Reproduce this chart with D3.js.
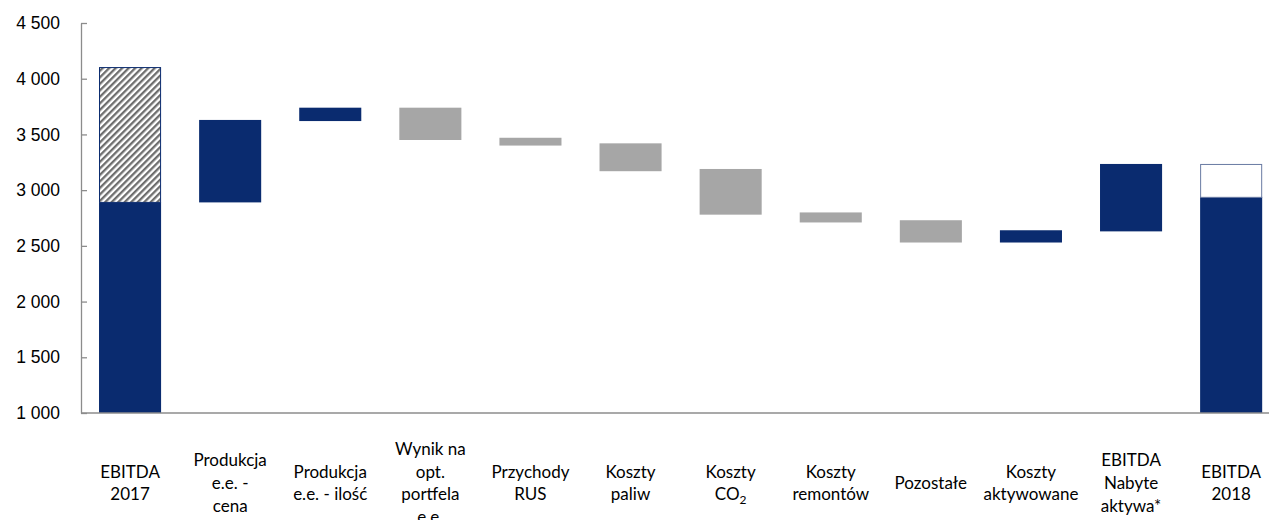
<!DOCTYPE html>
<html>
<head>
<meta charset="utf-8">
<script src="https://cdn.jsdelivr.net/npm/d3@7"></script>
<style>
  body { margin: 0; background: #fff; }
  svg { display: block; font-family: Lato, "Open Sans", sans-serif; }
  .tick text { fill: #000; }
</style>
</head>
<body>
<div id="chart"></div>
<script>
// category labels, one array of lines each ("_2" = subscript 2)
var categories = [
    ["EBITDA", "2017"],
    ["Produkcja", "e.e. -", "cena"],
    ["Produkcja", "e.e. - ilość"],
    ["Wynik na", "opt.", "portfela", "e.e."],
    ["Przychody", "RUS"],
    ["Koszty", "paliw"],
    ["Koszty", "CO_2"],
    ["Koszty", "remontów"],
    ["Pozostałe"],
    ["Koszty", "aktywowane"],
    ["EBITDA", "Nabyte", "aktywa*"],
    ["EBITDA", "2018"]
];

// bottom and top of each floating bar (mln zł)
var lows  = [1000, 2890, 3620, 3450, 3400, 3170, 2780, 2710, 2530, 2530, 2630, 1000];
var highs = [2890, 3630, 3740, 3740, 3470, 3420, 3190, 2800, 2730, 2640, 3235, 2940];
var kinds = ["blue", "blue", "blue", "gray", "gray", "gray", "gray", "gray", "gray", "blue", "blue", "blue"];

// hatched part on top of EBITDA 2017, outlined part on top of EBITDA 2018
var hatchedTop = 4100;
var outlinedTop = 3235;

var yTicks = [1000, 1500, 2000, 2500, 3000, 3500, 4000, 4500];

var width = 1269,
    height = 520;

var colors = {blue: "#0a2b6f", gray: "#a6a6a6"};

var svg = d3.select("#chart")
    .append("svg")
    .attr("width", width)
    .attr("height", height);

// diagonal hatch
var defs = svg.append("defs");
var pat = defs.append("pattern")
    .attr("id", "hatch")
    .attr("patternUnits", "userSpaceOnUse")
    .attr("width", 4.6)
    .attr("height", 4.6)
    .attr("patternTransform", "rotate(45)");
pat.append("rect").attr("width", 4.6).attr("height", 4.6).attr("fill", "#fff");
pat.append("rect").attr("width", 2.3).attr("height", 4.6).attr("fill", "#6e6e6e");

var x = d3.scaleBand()
    .domain(d3.range(categories.length))
    .range([80, 80 + 12 * 100.1])
    .paddingInner(0.38)
    .paddingOuter(0.19);

var y = d3.scaleLinear()
    .domain([1000, 4500])
    .range([413, 23]);

var locale = d3.formatLocale({decimal: ",", thousands: " ", grouping: [3], currency: ["", ""]});
var fmt = locale.format(",");

// y axis, ticks pointing inward
var yAxis = svg.append("g")
    .attr("transform", "translate(81,0)")
    .call(d3.axisLeft(y).tickValues(yTicks).tickFormat(fmt).tickSizeInner(-6).tickSizeOuter(0).tickPadding(21));
yAxis.selectAll("text").style("font-size", "17.5px");
yAxis.selectAll("line, path").attr("stroke", "#8c8c8c").attr("stroke-width", 1.3);

// bars
svg.append("g")
    .selectAll("rect")
    .data(d3.range(categories.length))
    .enter()
    .append("rect")
    .attr("x", function (i) { return x(i); })
    .attr("y", function (i) { return y(highs[i]); })
    .attr("width", x.bandwidth())
    .attr("height", function (i) { return y(lows[i]) - y(highs[i]); })
    .attr("fill", function (i) { return colors[kinds[i]]; });

svg.append("rect")
    .attr("x", x(0) + 0.5)
    .attr("y", y(hatchedTop))
    .attr("width", x.bandwidth() - 1)
    .attr("height", y(highs[0]) - y(hatchedTop))
    .attr("fill", "url(#hatch)")
    .attr("stroke", colors.blue)
    .attr("stroke-width", 1);

svg.append("rect")
    .attr("x", x(11) + 0.5)
    .attr("y", y(outlinedTop) + 0.5)
    .attr("width", x.bandwidth() - 1)
    .attr("height", y(highs[11]) - y(outlinedTop))
    .attr("fill", "#fff")
    .attr("stroke", "#6a7ba3")
    .attr("stroke-width", 1);

// x axis line
svg.append("line")
    .attr("x1", 81).attr("x2", width)
    .attr("y1", y(1000)).attr("y2", y(1000))
    .attr("stroke", "#8c8c8c")
    .attr("stroke-width", 1.5);

// category labels
var lineH = 22.6;
var labels = svg.append("g")
    .selectAll("text")
    .data(categories)
    .enter()
    .append("text")
    .attr("text-anchor", "middle")
    .style("font-size", "17px")
    .attr("fill", "#000")
    .attr("x", function (d, i) { return x(i) + x.bandwidth() / 2; })
    .attr("y", function (d) { return 483 - (d.length - 1) / 2 * lineH + 6; });

labels.each(function (d, i) {
    var t = d3.select(this);
    d.forEach(function (line, j) {
        var ts = t.append("tspan")
            .attr("x", x(i) + x.bandwidth() / 2)
            .attr("dy", j === 0 ? 0 : lineH);
        var parts = line.split("_");
        ts.append("tspan").text(parts[0]);
        if (parts.length > 1) {
            ts.append("tspan").attr("dy", 4).style("font-size", "12px").text(parts[1]);
        }
    });
});
</script>
</body>
</html>
